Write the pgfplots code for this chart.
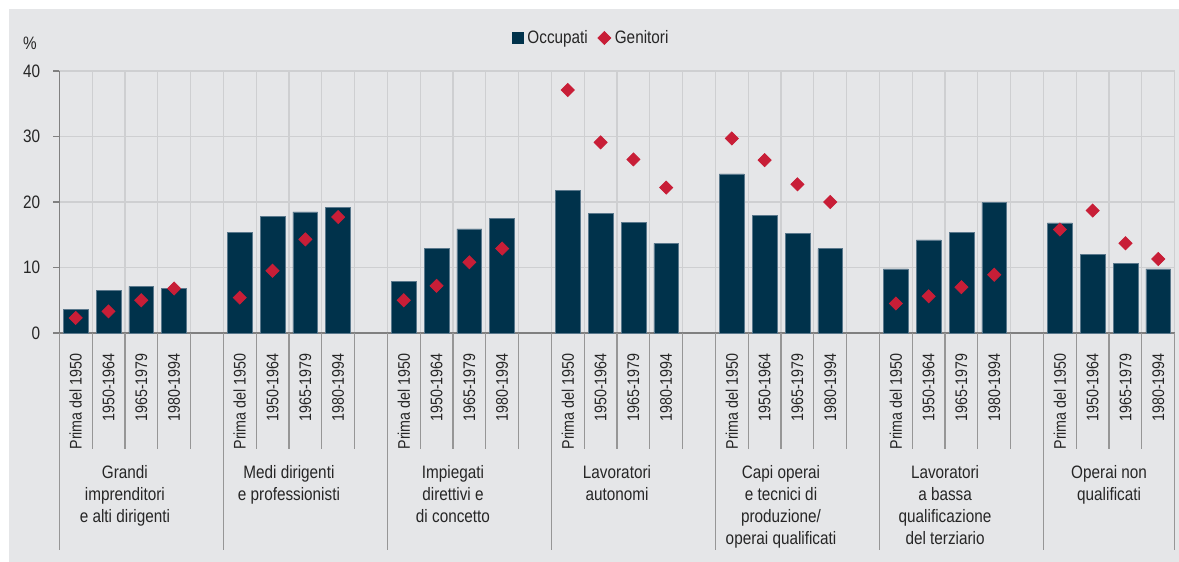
\documentclass[border=0pt]{standalone}
\usepackage{fontspec}
\setmainfont{Liberation Sans}[FakeStretch=0.85]
\usepackage{pgfplots}
\pgfplotsset{compat=1.18}
\definecolor{bg}{RGB}{229,230,232}
\definecolor{navy}{RGB}{0,50,75}
\definecolor{dred}{RGB}{200,30,55}
\definecolor{txt}{RGB}{38,38,38}
\definecolor{gridc}{RGB}{206,207,209}
\definecolor{axc}{RGB}{128,128,128}
\definecolor{sepc}{RGB}{150,150,150}
\definecolor{baredge}{RGB}{90,120,140}
\begin{document}
\begin{tikzpicture}[font=\fontsize{9}{11}\selectfont, text=txt]
\fill[white] (-29.65pt,-114.5pt) rectangle (559.85pt,166.5pt);
\path[use as bounding box] (-29.65pt,-114.5pt) rectangle (559.85pt,166.5pt);
\fill[bg] (-25.15pt,-114.5pt) rectangle (559.85pt,162pt);
\begin{axis}[
  at={(0,0)}, anchor=south west,
  scale only axis, width=557.7pt, height=131pt,
  xmin=-0.5, xmax=33.5, ymin=0, ymax=40,
  axis lines*=left,
  axis line style={draw=axc, line width=0.6pt},
  ytick={0,10,20,30,40},
  ymajorgrids, major grid style={draw=gridc, line width=0.6pt},
  xtick={0,1,2,3,5,6,7,8,10,11,12,13,15,16,17,18,20,21,22,23,25,26,27,28,30,31,32,33},
  xticklabels={Prima del 1950,1950-1964,1965-1979,1980-1994,Prima del 1950,1950-1964,1965-1979,1980-1994,Prima del 1950,1950-1964,1965-1979,1980-1994,Prima del 1950,1950-1964,1965-1979,1980-1994,Prima del 1950,1950-1964,1965-1979,1980-1994,Prima del 1950,1950-1964,1965-1979,1980-1994,Prima del 1950,1950-1964,1965-1979,1980-1994},
  minor xtick={-0.5,0.5,...,33.5},
  xminorgrids, minor grid style={draw=gridc, line width=0.6pt},
  minor tick length=0pt,
  xtick style={draw=none},
  ytick style={draw=axc, line width=0.6pt},
  tick align=outside, major tick length=3pt,
  xticklabel style={rotate=90, anchor=east, inner xsep=7pt, inner ysep=0pt, font=\fontsize{8.4}{10}\selectfont},
  yticklabel style={font=\fontsize{9}{11}\selectfont, xshift=-3pt},
  /pgf/number format/assume math mode=true,
  clip=false,
  legend style={at={(0.4777,1.126)}, anchor=center, draw=none, fill=none,
    legend columns=2, font=\fontsize{9}{11}\selectfont,
    /tikz/every even column/.append style={column sep=3pt}},
]
\pgfplotsinvokeforeach{-0.5,0.5,...,33.5}{
  \draw[sepc, line width=0.6pt] (axis cs:#1,0) -- ([yshift=-58pt]axis cs:#1,0);
}
\pgfplotsinvokeforeach{-0.5,4.5,9.5,14.5,19.5,24.5,29.5,33.5}{
  \draw[sepc, line width=0.6pt] (axis cs:#1,0) -- ([yshift=-108.5pt]axis cs:#1,0);
}
\addplot[ybar, bar width=0.756, fill=navy, draw=baredge, line width=0.3pt,
  legend image code/.code={\fill[navy] (0pt,-2.75pt) rectangle (5.5pt,2.75pt);}]
  coordinates {
  (0,3.6) (1,6.5) (2,7.1) (3,6.8)
  (5,15.4) (6,17.8) (7,18.5) (8,19.2)
  (10,7.9) (11,12.9) (12,15.9) (13,17.5)
  (15,21.8) (16,18.2) (17,16.9) (18,13.7)
  (20,24.3) (21,17.9) (22,15.2) (23,12.9)
  (25,9.8) (26,14.2) (27,15.3) (28,19.9)
  (30,16.8) (31,12.0) (32,10.6) (33,9.8)
  };
\addlegendentry{Occupati}
\addplot[only marks, mark=square*, mark size=2.3pt, mark options={rotate=45, fill=dred, draw=dred}]
  coordinates {
  (0,2.3) (1,3.3) (2,5.0) (3,6.8)
  (5,5.4) (6,9.5) (7,14.3) (8,17.7)
  (10,5.0) (11,7.2) (12,10.8) (13,12.9)
  (15,37.1) (16,29.1) (17,26.5) (18,22.2)
  (20,29.7) (21,26.4) (22,22.7) (23,20.0)
  (25,4.5) (26,5.6) (27,7.0) (28,8.9)
  (30,15.8) (31,18.7) (32,13.7) (33,11.3)
  };
\addlegendentry{Genitori}
\node[anchor=north, align=center, inner sep=0pt] at ([yshift=-66pt]axis cs:1.5,0) {Grandi\\imprenditori\\e alti dirigenti};
\node[anchor=north, align=center, inner sep=0pt] at ([yshift=-66pt]axis cs:6.5,0) {Medi dirigenti\\e professionisti};
\node[anchor=north, align=center, inner sep=0pt] at ([yshift=-66pt]axis cs:11.5,0) {Impiegati\\direttivi e\\di concetto};
\node[anchor=north, align=center, inner sep=0pt] at ([yshift=-66pt]axis cs:16.5,0) {Lavoratori\\autonomi};
\node[anchor=north, align=center, inner sep=0pt] at ([yshift=-66pt]axis cs:21.5,0) {Capi operai\\e tecnici di\\produzione/\\operai qualificati};
\node[anchor=north, align=center, inner sep=0pt] at ([yshift=-66pt]axis cs:26.5,0) {Lavoratori\\a bassa\\qualificazione\\del terziario};
\node[anchor=north, align=center, inner sep=0pt] at ([yshift=-66pt]axis cs:31.5,0) {Operai non\\qualificati};
\end{axis}
\node at (-14.65pt,145pt) {\%};
\end{tikzpicture}
\end{document}
